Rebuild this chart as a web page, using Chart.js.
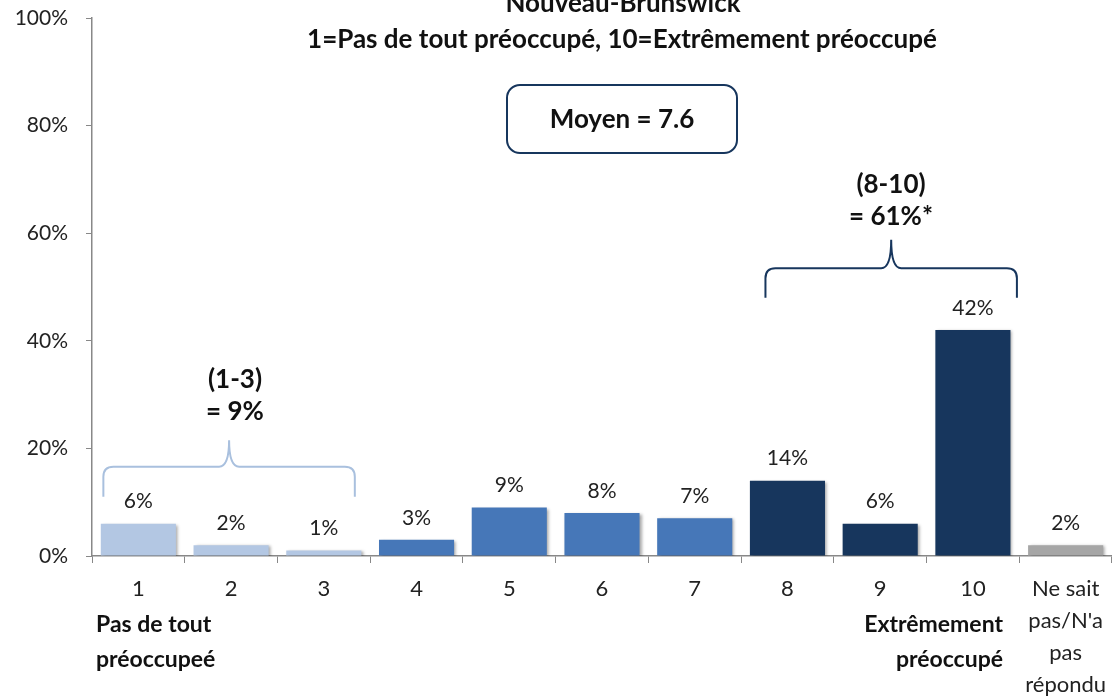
<!DOCTYPE html>
<html>
<head>
<meta charset="utf-8">
<script src="https://cdn.jsdelivr.net/npm/chart.js@4"></script>
<style>
  html, body { margin: 0; padding: 0; background: #fff; }
  canvas { display: block; }
</style>
</head>
<body>
<canvas id="chart" width="1112" height="696"></canvas>
<script>
// data
const CATEGORIES = ['1', '2', '3', '4', '5', '6', '7', '8', '9', '10', ['Ne sait', "pas/N'a", 'pas', 'répondu']]
const VALUES = [6, 2, 1, 3, 9, 8, 7, 14, 6, 42, 2]
const Y_TICKS = [0, 20, 40, 60, 80, 100]
const TITLE = ['Nouveau-Brunswick', '1=Pas de tout préoccupé, 10=Extrêmement préoccupé']
const MEAN_TEXT = 'Moyen = 7.6'
const LOW_GROUP = ['(1-3)', '= 9%']
const HIGH_GROUP = ['(8-10)', '= 61%*']

const LIGHT = '#b3c7e3'
const MID = '#4677b8'
const DARK = '#17365d'
const GREY = '#a6a6a6'
const COLORS = [LIGHT, LIGHT, LIGHT, MID, MID, MID, MID, DARK, DARK, DARK, GREY]

const FONT = 'Lato, "Open Sans", sans-serif'
Chart.defaults.font.family = FONT

function bracket(ctx, x1, x2, yTop, yLine, yEnd, color) {
    const xm = (x1 + x2) / 2
    const r = 10
    ctx.save()
    ctx.strokeStyle = color
    ctx.lineWidth = 2
    ctx.beginPath()
    ctx.moveTo(x1, yEnd)
    ctx.lineTo(x1, yLine + r)
    ctx.quadraticCurveTo(x1, yLine, x1 + r, yLine)
    ctx.lineTo(xm - r, yLine)
    ctx.quadraticCurveTo(xm, yLine, xm, yTop)
    ctx.quadraticCurveTo(xm, yLine, xm + r, yLine)
    ctx.lineTo(x2 - r, yLine)
    ctx.quadraticCurveTo(x2, yLine, x2, yLine + r)
    ctx.lineTo(x2, yEnd)
    ctx.stroke()
    ctx.restore()
}

const shadowPlugin = {
    id: 'shadow',
    beforeDatasetDraw(chart) {
        const ctx = chart.ctx
        ctx.save()
        ctx.shadowColor = 'rgba(0,0,0,0.35)'
        ctx.shadowBlur = 3
        ctx.shadowOffsetX = 2
        ctx.shadowOffsetY = 1
    },
    afterDatasetDraw(chart) {
        chart.ctx.restore()
    }
}

const extrasPlugin = {
    id: 'extras',
    afterDatasetsDraw(chart) {
        const ctx = chart.ctx
        const xs = chart.scales.x
        const ys = chart.scales.y
        const meta = chart.getDatasetMeta(0)

        // value labels
        ctx.save()
        ctx.fillStyle = '#222'
        ctx.font = '21px ' + FONT
        ctx.textAlign = 'center'
        ctx.textBaseline = 'middle'
        meta.data.forEach((bar, i) => {
            ctx.fillText(VALUES[i] + '%', bar.x, bar.y - 22)
        })

        // title
        ctx.fillStyle = '#111'
        ctx.font = 'bold 26px ' + FONT
        ctx.fillText(TITLE[0], 623, 4)
        ctx.fillText(TITLE[1], 622, 40)

        // mean box
        ctx.strokeStyle = DARK
        ctx.lineWidth = 2
        ctx.beginPath()
        ctx.roundRect(507, 85, 230, 68, 13)
        ctx.stroke()
        ctx.font = 'bold 26px ' + FONT
        ctx.fillText(MEAN_TEXT, 622, 120)

        // brackets
        bracket(ctx, xs.getPixelForValue(0) - 35, xs.getPixelForValue(2) + 31,
            ys.getPixelForValue(21.5), ys.getPixelForValue(16.6), ys.getPixelForValue(11), '#a9c0de')
        bracket(ctx, xs.getPixelForValue(7) - 22, xs.getPixelForValue(9) + 44,
            ys.getPixelForValue(58.8), ys.getPixelForValue(53.5), ys.getPixelForValue(48), DARK)

        ctx.font = 'bold 26px ' + FONT
        ctx.fillStyle = '#111'
        ctx.fillText(LOW_GROUP[0], 235, 380)
        ctx.fillText(LOW_GROUP[1], 235, 412)
        ctx.fillText(HIGH_GROUP[0], 891, 185)
        ctx.fillText(HIGH_GROUP[1], 891, 217)

        // scale end descriptions
        ctx.font = 'bold 23px ' + FONT
        ctx.textAlign = 'left'
        ctx.fillText('Pas de tout', 96, 625)
        ctx.fillText('préoccupeé', 96, 660)
        ctx.textAlign = 'right'
        ctx.fillText('Extrêmement', 1003, 625)
        ctx.fillText('préoccupé', 1003, 660)
        ctx.restore()
    }
}

const data = {
    labels: CATEGORIES,
    datasets: [{
        data: VALUES,
        backgroundColor: COLORS,
        borderWidth: 0,
        categoryPercentage: 0.81,
        barPercentage: 1
    }]
}

const config = {
    type: 'bar',
    data: data,
    options: {
        responsive: false,
        animation: false,
        layout: { padding: { top: 18, right: 0, left: 0, bottom: 0 } },
        plugins: {
            legend: { display: false },
            tooltip: { enabled: false }
        },
        scales: {
            x: {
                grid: {
                    offset: true,
                    drawOnChartArea: false,
                    tickLength: 7,
                    color: '#888'
                },
                border: { color: '#888', width: 1.5 },
                ticks: {
                    color: '#222',
                    font: { size: 22, lineHeight: 1.45 },
                    padding: 10,
                    maxRotation: 0,
                    autoSkip: false
                },
                afterFit(scale) {
                    scale.height = 140
                    scale.paddingLeft = 0
                    scale.paddingRight = 0
                }
            },
            y: {
                min: 0,
                max: 100,
                afterBuildTicks(scale) {
                    scale.ticks = Y_TICKS.map(v => ({ value: v }))
                },
                grid: {
                    drawOnChartArea: false,
                    tickLength: 6,
                    color: '#888'
                },
                border: { color: '#888', width: 1.5 },
                ticks: {
                    color: '#222',
                    font: { size: 21 },
                    padding: 18,
                    callback: v => v + '%'
                },
                afterFit(scale) {
                    scale.width = 92
                    scale.paddingTop = 0
                    scale.paddingBottom = 0
                }
            }
        }
    },
    plugins: [shadowPlugin, extrasPlugin]
}

const myChart = new Chart(document.getElementById('chart'), config)
</script>
</body>
</html>
